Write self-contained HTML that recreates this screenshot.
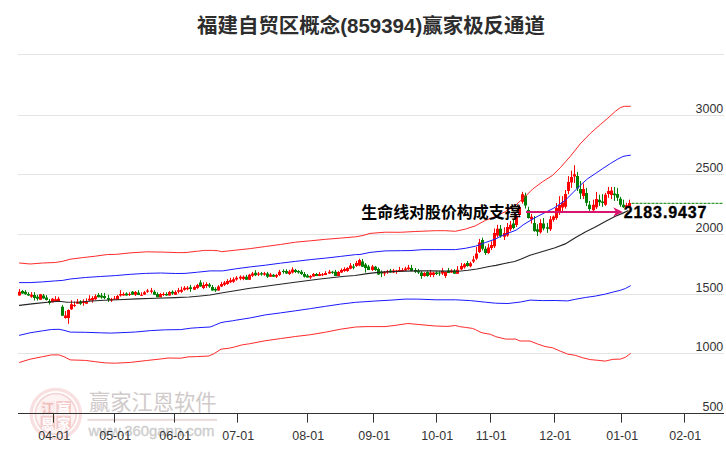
<!DOCTYPE html>
<html><head><meta charset="utf-8"><title>chart</title><style>html,body{margin:0;padding:0;background:#fff}svg{display:block}text{font-family:"Liberation Sans",sans-serif}text.cjk{font-family:"Liberation Sans","Noto Sans CJK SC",sans-serif}</style>
</head><body>
<svg width="726" height="450" viewBox="0 0 726 450">
<rect width="726" height="450" fill="#fff"/>
<g fill="#e3e3e3" shape-rendering="crispEdges">
<rect x="18" y="54" width="706" height="1"/>
<rect x="18" y="115" width="706" height="1"/>
<rect x="18" y="174" width="706" height="1"/>
<rect x="18" y="234" width="706" height="1"/>
<rect x="18" y="294" width="706" height="1"/>
<rect x="18" y="353" width="706" height="1"/>
</g>
<g>
<circle cx="55.8" cy="414" r="19.8" fill="#fdf3f3"/>
<circle cx="55.8" cy="414" r="24.6" fill="none" stroke="#f8e0e0" stroke-width="3.4"/>
<circle cx="55.8" cy="414" r="20.4" fill="none" stroke="#f5d4d4" stroke-width="1.7"/>
<rect x="40.5" y="401" width="14.6" height="13.4" fill="#fbecec"/>
<rect x="56.4" y="401" width="14.6" height="13.4" fill="#f4cccc"/>
<rect x="40.5" y="415.7" width="14.6" height="13.6" fill="#f4cccc"/>
<rect x="56.4" y="415.7" width="14.6" height="13.6" fill="#f4cccc"/>
<text class="cjk" x="47.8" y="412.9" font-size="13" font-weight="bold" text-anchor="middle" fill="#f0b8b8">江</text>
<text class="cjk" x="63.7" y="412.9" font-size="13" font-weight="bold" text-anchor="middle" fill="#fff">赢</text>
<text class="cjk" x="47.8" y="427.6" font-size="13" font-weight="bold" text-anchor="middle" fill="#fff">恩</text>
<text class="cjk" x="63.8" y="427.6" font-size="13" font-weight="bold" text-anchor="middle" fill="#fff">家</text>
</g>
<text class="cjk" x="88.9" y="409.5" font-size="21.3" fill="#d0caca" textLength="127.5" lengthAdjust="spacingAndGlyphs">赢家江恩软件</text>
<rect x="87.5" y="418.8" width="129.5" height="2" fill="#ecd9d9"/>
<text x="88.5" y="436" font-size="14.8" fill="#cdcdcd" stroke="#cdcdcd" stroke-width="0.35" textLength="126" lengthAdjust="spacingAndGlyphs">www.360gann.com</text>
<path d="M19.5 289V295.6M31.5 292.1V297.8M40.5 293.9V299.7M52.5 298.1V302.4M55.5 296.2V301.8M58.5 296.8V301.4M65.5 311.1V318.6M68.5 309.3V323.8M71.5 300.2V309.9M74.5 301.4V307.1M77.5 298.9V303.9M83.5 299.3V305.8M86.5 298.4V303.7M89.5 295.2V301.4M92.5 296.2V302.7M95.5 294.3V299.9M111.5 297.9V301.9M114.5 296V299.7M117.5 294.8V299.7M120.5 290.2V296.6M123.5 292.3V295.6M129.5 292.3V296M135.5 291V296M141.5 292.3V296M144.5 291V294.8M147.5 288.9V292.9M151.5 287.9V293.5M160.5 292.9V297.3M163.5 292.3V296M169.5 291V295.6M175.5 290.4V294.8M178.5 287.9V293.5M181.5 286.7V292.9M184.5 286.1V290.7M187.5 286.1V290.2M194.5 285.6V289.7M197.5 283.9V288.9M203.5 282.3V289.1M206.5 282.3V287.9M218.5 285.1V290.6M221.5 281.9V286.9M224.5 281V286M227.5 279.2V284.8M230.5 277.9V282.9M233.5 277.3V282.9M236.5 276.1V280.7M240.5 275.4V280.2M243.5 275.4V280.2M249.5 273.9V279.8M252.5 271.9V276.9M258.5 271.9V276.1M264.5 271.9V275.7M270.5 272.9V276.9M276.5 273.9V278M279.5 269.9V275.9M289.5 269.9V274.9M292.5 267.2V273.6M310.5 275.1V278.9M313.5 273V276.7M319.5 272.1V276.1M322.5 273V276.1M325.5 271.1V275.1M329.5 269.9V273.9M338.5 271.1V276.1M341.5 268.4V273M344.5 267.2V271.8M347.5 267.2V271.8M350.5 263.1V269.3M356.5 260.9V266.8M359.5 258.7V266.2M372.5 264.9V270.9M384.5 271.1V275.9M387.5 269.9V273.9M393.5 268.9V273M396.5 269.9V273.9M399.5 266.8V271.7M402.5 268V271.7M405.5 266.8V271.1M408.5 264.9V269.9M424.5 272.1V276.7M430.5 269.9V277.1M433.5 271.7V277.1M442.5 268V274.9M445.5 271.7V277.9M451.5 269.2V272.9M457.5 266.1V273.8M461.5 263V270.1M464.5 263V268.6M470.5 261.7V267.3M473.5 256.1V263M476.5 246.8V259.9M479.5 238.9V253M488.5 243.7V253.9M491.5 241.2V249.9M494.5 228.5V248M497.5 224.8V237.4M504.5 227.3V240M507.5 223V236.8M510.5 221V231.2M516.5 215V227M519.5 205V217M522.5 191.8V203.7M531.5 213.9V223.6M540.5 219.2V233.5M550.5 216.1V231M553.5 215.5V221.7M556.5 203V219.8M559.5 196.2V214.9M562.5 196.2V211.1M565.5 190V208.6M568.5 176.1V194.1M571.5 170.7V187.9M574.5 165.2V182.9M583.5 183.5V199.1M593.5 199.7V210.9M596.5 191.9V209M605.5 192.9V205.9M608.5 186.9V197.8M611.5 186.9V199.1M626.5 202.8V209M629.5 199.7V207.2" stroke="#ff0000" stroke-width="1" fill="none"/>
<path d="M18 291.8h3V295.6h-3zM30 294.7h3V296.8h-3zM39 294.3h3V299.7h-3zM51 298.7h3V302.2h-3zM54 299.3h3V301.2h-3zM57 298.7h3V301.4h-3zM64 315.5h3V318h-3zM67 309.9h3V318h-3zM70 304.3h3V309.3h-3zM73 304.9h3V306.1h-3zM76 301.8h3V303.7h-3zM82 301.4h3V303h-3zM85 301.2h3V303.7h-3zM88 298.7h3V300.5h-3zM91 298.1h3V300.5h-3zM94 296.2h3V299.3h-3zM110 299.1h3V300.6h-3zM113 298.5h3V299.5h-3zM116 296h3V299.7h-3zM119 293.9h3V295.6h-3zM122 293.9h3V295.4h-3zM128 293.9h3V294.9h-3zM134 291.9h3V294.8h-3zM140 294.8h3V295.8h-3zM143 292.3h3V294.4h-3zM146 290.4h3V291.7h-3zM150 290.4h3V291.7h-3zM159 293.9h3V297.3h-3zM162 293.9h3V294.9h-3zM168 291.9h3V295.4h-3zM174 291.9h3V294.8h-3zM177 290.2h3V291.7h-3zM180 289.8h3V291.7h-3zM183 287.7h3V289.8h-3zM186 287.7h3V289.2h-3zM193 286.9h3V289.7h-3zM196 285.1h3V287.9h-3zM202 285.1h3V288.1h-3zM205 283.9h3V286h-3zM217 286.4h3V290.6h-3zM220 283.9h3V286.6h-3zM223 282.6h3V284.8h-3zM226 281h3V283.9h-3zM229 280.2h3V282.3h-3zM232 279.2h3V281.7h-3zM235 277.7h3V279.4h-3zM239 276.7h3V278.5h-3zM242 276.7h3V278.9h-3zM248 274.8h3V279.8h-3zM251 273.6h3V275.7h-3zM257 273.6h3V274.8h-3zM263 273.2h3V274.8h-3zM269 274.4h3V276.7h-3zM275 275.1h3V276.7h-3zM278 271.8h3V274.9h-3zM288 271.4h3V273.9h-3zM291 269.6h3V272.6h-3zM309 276.1h3V277.6h-3zM312 273.9h3V276.4h-3zM318 273.9h3V275.9h-3zM321 274.3h3V275.3h-3zM324 273h3V274.9h-3zM328 271.8h3V273.6h-3zM337 272.1h3V275.9h-3zM340 269.9h3V272.4h-3zM343 268.9h3V270.9h-3zM346 268h3V270.9h-3zM349 265.5h3V268.7h-3zM355 263.1h3V265.9h-3zM358 259.9h3V265.5h-3zM371 266.4h3V269.9h-3zM383 272.1h3V273.6h-3zM386 271.1h3V272.6h-3zM392 270.5h3V272.6h-3zM395 270.5h3V271.7h-3zM398 269.9h3V271.1h-3zM401 269.9h3V270.9h-3zM404 268.4h3V270.5h-3zM407 267.6h3V269.3h-3zM423 273h3V275.9h-3zM429 272.6h3V274.9h-3zM432 272.6h3V274.9h-3zM441 270.9h3V273.6h-3zM444 272.1h3V276h-3zM450 270.4h3V272.6h-3zM456 269.8h3V273.8h-3zM460 266.1h3V269.2h-3zM463 264.2h3V267.3h-3zM469 263.3h3V266.3h-3zM472 259.6h3V261.4h-3zM475 253.4h3V258.4h-3zM478 242.4h3V252.1h-3zM487 247.4h3V253h-3zM490 244.9h3V248h-3zM493 233.1h3V246.2h-3zM496 228.7h3V235.6h-3zM503 233h3V236.8h-3zM506 226.9h3V235.6h-3zM509 224.8h3V229.2h-3zM515 217h3V225h-3zM518 207h3V215h-3zM521 194.3h3V201.8h-3zM530 216.7h3V219.6h-3zM539 222.9h3V232.3h-3zM549 219.2h3V229.2h-3zM552 216.4h3V219.8h-3zM555 208h3V218h-3zM558 204.9h3V211.1h-3zM561 202.4h3V207.4h-3zM564 193.9h3V206.8h-3zM567 181.9h3V191h-3zM570 176.9h3V182.6h-3zM573 174.2h3V176.4h-3zM582 189.1h3V196h-3zM592 204.7h3V210.3h-3zM595 199.1h3V207.2h-3zM604 194.7h3V204.7h-3zM607 191h3V194.1h-3zM610 190.6h3V195.1h-3zM625 205.3h3V207.2h-3zM628 203.1h3V206.8h-3z" fill="#ff0000"/>
<path d="M22.5 290V293.7M25.5 290.2V294.7M28.5 292.2V295.8M34.5 292.2V300.5M37.5 294.7V300.5M43.5 293.9V298.7M46.5 295.2V300.5M49.5 298.9V304.6M62.5 305.1V315.7M80.5 300.2V304.9M98.5 293.1V297.4M101.5 293.1V298.7M104.5 292.9V299.1M108.5 294.8V301.9M126.5 292.3V295.6M132.5 291V294.8M138.5 290.2V295.1M154.5 290.2V294.8M157.5 292.3V297.3M166.5 292.3V295.6M172.5 290.4V294.8M190.5 284.8V291.9M200.5 280.2V286.6M209.5 282.9V287.9M212.5 285.1V290.6M215.5 287.3V291.9M246.5 274.8V279.8M255.5 270.2V276.1M261.5 271.9V275.7M267.5 271.9V277.9M273.5 273.9V276.9M283.5 269.3V273.6M286.5 269.3V273.9M295.5 268.9V273M298.5 270.1V273.6M301.5 270.1V274.9M304.5 272.1V277.6M307.5 273.9V277.6M316.5 273V276.1M332.5 270.9V273.9M335.5 269.9V275.9M353.5 263.9V269.3M362.5 258.9V266.8M365.5 263V272.6M368.5 264.9V269.9M375.5 265.9V270.9M378.5 267.6V274.9M381.5 270.5V277.1M390.5 268.9V272.6M411.5 264.9V271.1M415.5 268V273M418.5 268.9V273.9M421.5 271.1V278.8M427.5 271.1V276.7M436.5 271.1V275.1M439.5 271.1V275.9M448.5 267.9V272.9M454.5 269.2V273.8M467.5 261.1V266.7M482.5 237.7V250.5M485.5 246.2V254.9M500.5 225V237.7M513.5 219.8V229.2M525.5 192.7V208.6M528.5 206.8V218.6M534.5 216.1V231.7M537.5 224.2V236M543.5 218V230.4M547.5 222.9V232.9M577.5 171.9V191M580.5 181V199.1M586.5 187.9V205.9M589.5 200.9V210.9M599.5 194.7V205.9M602.5 194.1V206.8M614.5 186.9V200.9M617.5 187.9V200.9M620.5 196.8V206.8M623.5 199.7V207.8" stroke="#008000" stroke-width="1" fill="none"/>
<path d="M21 291h3V293.4h-3zM24 291.8h3V294.3h-3zM27 293.9h3V295.6h-3zM33 294.9h3V298.1h-3zM36 296.8h3V298.7h-3zM42 295.6h3V298.4h-3zM45 297.4h3V299.9h-3zM48 300.9h3V302.7h-3zM61 306.8h3V315.7h-3zM79 301.4h3V303.7h-3zM97 294.9h3V297.2h-3zM100 295.6h3V297.4h-3zM103 296h3V297.9h-3zM107 297.9h3V299.7h-3zM125 293.5h3V295.6h-3zM131 291.7h3V294.8h-3zM137 292.6h3V295.1h-3zM153 291.7h3V294.8h-3zM156 294.1h3V297.3h-3zM165 293.9h3V295.6h-3zM171 291.7h3V293.5h-3zM189 287.3h3V289.1h-3zM199 282.6h3V286.4h-3zM208 284.4h3V286.6h-3zM211 286.9h3V290.6h-3zM214 288.9h3V290.6h-3zM245 276.7h3V279.8h-3zM254 272.7h3V275.2h-3zM260 273.2h3V274.4h-3zM266 273.6h3V276.7h-3zM272 274.8h3V276.7h-3zM282 270.9h3V271.9h-3zM285 270.9h3V273.6h-3zM294 270.1h3V272.1h-3zM297 271.1h3V272.6h-3zM300 271.8h3V273.9h-3zM303 273.9h3V276.7h-3zM306 275.5h3V277.6h-3zM315 273.9h3V275.9h-3zM331 271.8h3V272.8h-3zM334 271.8h3V275.9h-3zM352 266.4h3V267.7h-3zM361 261.4h3V266.8h-3zM364 264.6h3V268h-3zM367 266.4h3V269.9h-3zM374 266.8h3V269.9h-3zM377 268.9h3V274.6h-3zM380 272.1h3V273.6h-3zM389 270.5h3V272.4h-3zM410 268h3V271.1h-3zM414 269.9h3V271.7h-3zM417 270.9h3V272.6h-3zM420 272.6h3V275.9h-3zM426 272.1h3V275.9h-3zM435 272.6h3V273.9h-3zM438 272.6h3V273.6h-3zM447 270.4h3V272.9h-3zM453 270.4h3V273.8h-3zM466 263h3V266.1h-3zM481 239.9h3V248.7h-3zM484 248.7h3V253h-3zM499 228.7h3V236.2h-3zM512 223.6h3V227.9h-3zM524 195.6h3V205.5h-3zM527 209.9h3V218h-3zM533 222.9h3V231h-3zM536 229.2h3V231.7h-3zM542 223.6h3V228.5h-3zM546 227.3h3V228.8h-3zM576 176.1h3V188.5h-3zM579 189.1h3V193.5h-3zM585 192.9h3V202.8h-3zM588 204.7h3V209h-3zM598 199.7h3V202.2h-3zM601 201.6h3V203.1h-3zM613 193.5h3V195.3h-3zM616 194.1h3V197.8h-3zM619 198.8h3V204.7h-3zM622 204.7h3V207.2h-3z" fill="#008000"/>
<g fill="none" stroke-linejoin="round" stroke-linecap="round">
<polyline points="19.5,263 30.1,264 42.6,263 55.2,262.5 62.7,261.3 70.2,259.2 82.8,257.6 95.3,256.2 100,255.5 107.6,254.5 115.6,254.4 131.1,252.8 146.7,251.8 162.2,252.1 177.8,252.6 185,252.6 197.6,251.2 204.4,250.4 212.6,250.4 218.2,250.8 221.5,251.7 235.2,250.2 250.3,248.6 265.3,246.5 280.4,244.5 295.4,242.2 310.5,240.8 325.6,239.3 340.6,238.1 355.7,236.8 363,235.5 370,233.4 385.1,232.2 400.2,232.3 415.2,231.5 435.3,230.7 445.3,230.7 455.4,231.3 465.4,229.1 475.5,225.8 485.5,220.3 495.5,216.5 505.6,211.5 515.6,205.2 525.7,196 532.6,189.1 542.6,181.7 552.6,175.3 560.2,167.8 570.2,156.5 580.2,143.9 590.3,133.4 600.3,124.6 607.9,118.1 615.4,111.3 620.4,107.6 624.2,106.3 630.4,106.3" stroke="#ff2a2a" stroke-width="1"/>
<polyline points="19.5,362.4 30.1,359.2 42.6,356.7 51.4,354.9 58.9,354.9 64,356.7 70.2,359.9 85.3,360.4 95.3,361.7 105.4,362.9 115.4,363.2 130.5,362.4 146.7,360.5 162.2,358.8 168,358 180.9,358.2 188,356.9 196.4,356.6 208.9,356 214.3,353.5 221,349.2 229.2,348.2 233.7,347.2 242.4,344.8 249.3,343.8 264.9,340.8 280.4,338.6 295.4,336.5 310.5,334.7 325.6,332.2 340.6,329.2 355.7,327 367,326.6 375.1,326.6 385,326.6 395,325.4 407.9,323.5 417.7,324.4 435.3,326 447.9,326.4 455.4,325.5 459.5,326.6 465.4,327.4 472.4,328.4 475.5,329.6 480,332 483,333 490.5,334.3 495.5,336.6 505.6,339.1 515.6,339.1 520,341 530,341 537.6,344 545.1,346.5 552.6,347.8 560.2,351.1 567.7,354.1 575.2,355.3 582.8,357.8 590.3,359.6 597.8,360.3 605.3,361.1 612.9,359.3 620.4,359.1 625.4,357.3 630.4,353.6" stroke="#ff2a2a" stroke-width="1"/>
<polyline points="19.5,282.6 30.1,282.6 42.6,281.9 55.2,280.9 62.7,280.4 70.2,279 85.3,277.5 100.4,276.5 115.4,275.6 130.5,274.3 145.5,273.4 160.6,273 175.7,273.5 185,273.4 197.6,272.2 210.1,270.9 222.7,270.9 235.2,268.9 250.3,266.9 265.3,265.2 280.4,263.2 295.4,261.4 310.5,259.6 325.6,258.1 340.6,256.4 355.7,254.6 360,254.5 370,252.4 385.1,250.9 400.2,250.7 410,250.6 422,249.7 435.3,249.6 455.4,249.6 465.4,248.3 475.5,246.2 485.5,242.5 495.5,239 500,236.6 505.6,234.3 508.9,232.9 516,230.2 520,227.4 523.1,224.9 531.1,220 538.2,216 546.2,212 553.3,208.4 557.7,205.6 560,204 565.2,200.4 572.7,192.9 580.2,185.4 587.8,178.6 595.3,173.6 602.8,168.5 610.4,163.5 617.9,159 622.9,156.5 626.7,155.7 630.4,155.2" stroke="#1a1aff" stroke-width="1"/>
<polyline points="19.5,335.3 30.1,332.8 42.6,330.8 51.4,329.5 58.9,329.3 64,330.3 70.2,332.1 85.3,332.3 100.4,332.8 110.4,333.1 123,332.6 135.5,332 150.6,330.6 165.6,329.8 180.7,329.6 190.7,328.2 197.6,327.7 210.1,327 214.3,325.4 220.9,322.6 225.2,321.8 232.5,320.8 235.2,320.3 250.3,317.9 265.3,314.9 280.4,312.9 295.4,310.8 310.5,308.6 325.6,306.3 340.6,304.1 355.7,302.3 367,301.6 375.1,301 390.1,300.2 405.2,299.1 417.7,299.1 435.3,299.8 455.4,299.8 470.4,300.6 485.5,302.2 495.5,303.2 508.1,303.5 520.6,302 530,300.1 542.6,300.6 555.1,300.5 567.7,300.9 575.2,299.3 585.3,297.5 595.3,296.1 605.3,294.1 612.9,292.1 620.4,290.3 625.4,288.5 630.4,285.8" stroke="#1a1aff" stroke-width="1"/>
<polyline points="19.5,305.4 34,303.6 50,302 59,301.2 67,302.2 80,302 92,301 104,300.2 118,299.8 137,298.9 156,298.2 175,297.6 189,297 198,296.2 210,295 222.7,292.8 235,290.7 250,288.2 260,287 274.6,285 295,282.2 320,279 345,276.2 355,275.5 367.4,273.6 380,272.1 392,271.6 405,271.1 417,270.9 430,270.9 445,271.1 458.7,271.3 468,270.3 477,269 490.5,266.2 496,265.4 505.6,263.2 514.7,261.5 520.6,259.3 530,255.3 542.6,251.5 555.1,247.7 565.2,243.9 575.2,237.7 585.3,232.1 595.3,227.1 605.3,221.4 615.4,216.3 622.9,213.1 628,210.8" stroke="#262626" stroke-width="1.15"/>
</g>
<line x1="631.5" y1="203.3" x2="723" y2="203.3" stroke="#008000" stroke-width="1" stroke-dasharray="3 1"/>
<g fill="#d8146e"><rect x="526" y="211" width="91" height="2"/><path d="M622.8 212L613.2 207.2L616 212L613.2 216.8Z"/></g>
<text class="cjk" x="361.3" y="218" font-size="16" font-weight="bold" fill="#000" textLength="159.3" lengthAdjust="spacingAndGlyphs">生命线对股价构成支撑</text>
<text x="623.7" y="217.5" font-size="16" font-weight="bold" fill="#000" stroke="#000" stroke-width="0.35" letter-spacing="0.9">2183.9437</text>
<g fill="#333" shape-rendering="crispEdges">
<rect x="18" y="413" width="706" height="1"/>
<rect x="53" y="413" width="1" height="9.6" shape-rendering="auto"/>
<rect x="114" y="413" width="1" height="9.6" shape-rendering="auto"/>
<rect x="174" y="413" width="1" height="9.6" shape-rendering="auto"/>
<rect x="237" y="413" width="1" height="9.6" shape-rendering="auto"/>
<rect x="307" y="413" width="1" height="9.6" shape-rendering="auto"/>
<rect x="373" y="413" width="1" height="9.6" shape-rendering="auto"/>
<rect x="436" y="413" width="1" height="9.6" shape-rendering="auto"/>
<rect x="490" y="413" width="1" height="9.6" shape-rendering="auto"/>
<rect x="554" y="413" width="1" height="9.6" shape-rendering="auto"/>
<rect x="621" y="413" width="1" height="9.6" shape-rendering="auto"/>
<rect x="684" y="413" width="1" height="9.6" shape-rendering="auto"/>
</g>
<g font-size="13.2" fill="#333">
<text transform="translate(54.2 439.8) scale(0.945 1)" text-anchor="middle">04-01</text>
<text transform="translate(115.2 439.8) scale(0.945 1)" text-anchor="middle">05-01</text>
<text transform="translate(175.2 439.8) scale(0.945 1)" text-anchor="middle">06-01</text>
<text transform="translate(238.2 439.8) scale(0.945 1)" text-anchor="middle">07-01</text>
<text transform="translate(308.2 439.8) scale(0.945 1)" text-anchor="middle">08-01</text>
<text transform="translate(374.2 439.8) scale(0.945 1)" text-anchor="middle">09-01</text>
<text transform="translate(437.2 439.8) scale(0.945 1)" text-anchor="middle">10-01</text>
<text transform="translate(491.2 439.8) scale(0.945 1)" text-anchor="middle">11-01</text>
<text transform="translate(555.2 439.8) scale(0.945 1)" text-anchor="middle">12-01</text>
<text transform="translate(622.2 439.8) scale(0.945 1)" text-anchor="middle">01-01</text>
<text transform="translate(685.2 439.8) scale(0.945 1)" text-anchor="middle">02-01</text>
<text transform="translate(723.3 112.9) scale(0.945 1)" text-anchor="end">3000</text>
<text transform="translate(723.3 171.9) scale(0.945 1)" text-anchor="end">2500</text>
<text transform="translate(723.3 231.9) scale(0.945 1)" text-anchor="end">2000</text>
<text transform="translate(723.3 291.9) scale(0.945 1)" text-anchor="end">1500</text>
<text transform="translate(723.3 350.9) scale(0.945 1)" text-anchor="end">1000</text>
<text transform="translate(723.3 410.9) scale(0.945 1)" text-anchor="end">500</text>
</g>
<text class="cjk" x="371" y="33" font-size="20.4" font-weight="bold" text-anchor="middle" fill="#2d2d2d" textLength="348" lengthAdjust="spacingAndGlyphs">福建自贸区概念(859394)赢家极反通道</text>
</svg></body></html>
